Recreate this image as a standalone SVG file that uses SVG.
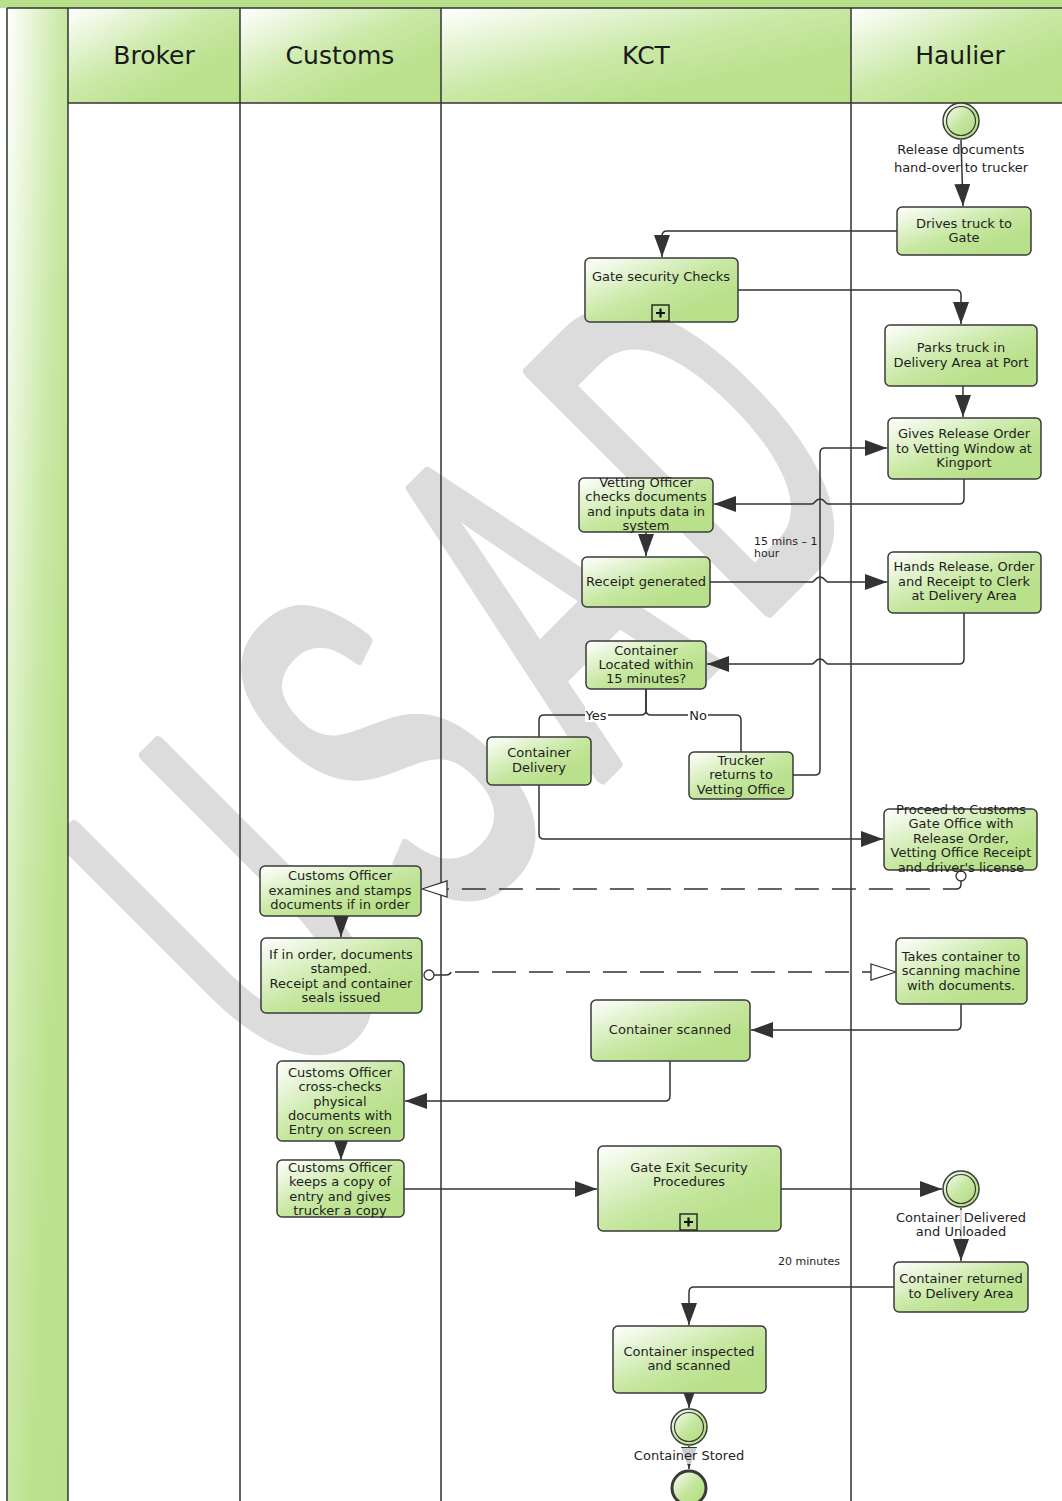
<svg xmlns="http://www.w3.org/2000/svg" width="1062" height="1501" viewBox="0 0 1062 1501">
  <defs>
    <linearGradient id="fillGreen" x1="0" y1="0" x2="1" y2="1">
      <stop offset="0" stop-color="#ffffff"/>
      <stop offset="0.5" stop-color="#c6e7a0"/>
      <stop offset="0.75" stop-color="#b9e08b"/>
      <stop offset="1" stop-color="#b9e08b"/>
    </linearGradient>
    <linearGradient id="headGreen" x1="0" y1="0" x2="1" y2="1">
      <stop offset="0" stop-color="#ffffff"/>
      <stop offset="0.45" stop-color="#cbe9a8"/>
      <stop offset="0.7" stop-color="#bce28f"/>
      <stop offset="1" stop-color="#b9e08b"/>
    </linearGradient>
    <marker id="arrow" markerUnits="userSpaceOnUse" markerWidth="22" markerHeight="16" refX="22" refY="8" orient="auto">
      <path d="M0,0 L22,8 L0,16 z" fill="#333333"/>
    </marker>
    <marker id="open" markerUnits="userSpaceOnUse" markerWidth="27" markerHeight="18" refX="26" refY="9" orient="auto">
      <path d="M1,1 L26,9 L1,17 z" fill="#ffffff" stroke="#333333" stroke-width="1.3"/>
    </marker>
  </defs>
  <style>
    .ln { fill: none; stroke: #333333; stroke-width: 1.5; }
    .msg { fill: none; stroke: #333333; stroke-width: 1.5; stroke-dasharray: 24 13; }
    .box { fill: url(#fillGreen); stroke: #3a3a3a; stroke-width: 1.5; }
    .lane { stroke: #333333; stroke-width: 1.5; fill: none; }
    .t { font-family: "DejaVu Sans", Verdana, sans-serif; font-size: 13px; fill: #1e1e1e; text-anchor: middle; }
    .small { font-family: "DejaVu Sans", Verdana, sans-serif; font-size: 11px; fill: #1e1e1e; }
    .head { font-family: "DejaVu Sans", Verdana, sans-serif; font-size: 25px; fill: #1a1a1a; text-anchor: middle; }
    .ev { fill: url(#fillGreen); stroke: #3a3a3a; stroke-width: 1.5; }
    .evin { fill: none; stroke: #3a3a3a; stroke-width: 1.2; }
    .sub { fill: none; stroke: #222222; stroke-width: 1.4; }
  </style>

  <!-- page -->
  <rect x="0" y="0" width="1062" height="1501" fill="#ffffff"/>

  <!-- watermark -->
  <text x="0" y="0" transform="translate(285,1094) rotate(-45) scale(0.51,1)" font-family="'Liberation Sans', Arial, sans-serif" font-size="490" letter-spacing="96" fill="#dcdcdc" stroke="#dcdcdc" stroke-width="14" stroke-linejoin="round">USAD</text>

  <!-- pool and lanes -->
  <g id="pool">
    <rect x="0" y="0" width="1062" height="8" fill="#b9e08b"/>
    <rect x="7" y="8" width="61" height="1500" fill="url(#headGreen)"/>
    <rect x="68" y="8" width="172" height="95" fill="url(#headGreen)"/>
    <rect x="240" y="8" width="201" height="95" fill="url(#headGreen)"/>
    <rect x="441" y="8" width="410" height="95" fill="url(#headGreen)"/>
    <rect x="851" y="8" width="218" height="95" fill="url(#headGreen)"/>
    <path class="lane" d="M7,8 H1062 M68,103 H1062 M7,8 V1501 M68,8 V1501 M240,8 V1501 M441,8 V1501 M851,8 V1501"/>
    <text class="head" x="154" y="64">Broker</text>
    <text class="head" x="340" y="64">Customs</text>
    <text class="head" x="646" y="64">KCT</text>
    <text class="head" x="960" y="64">Haulier</text>
  </g>

  <!-- connectors -->
  <g id="connectors">
    <path class="ln" d="M961,140 L963,206" marker-end="url(#arrow)"/>
    <path class="ln" d="M897,231 H667 Q662,231 662,236 V257" marker-end="url(#arrow)"/>
    <path class="ln" d="M738,290 H956 Q961,290 961,295 V324" marker-end="url(#arrow)"/>
    <path class="ln" d="M963,386 V417" marker-end="url(#arrow)"/>
    <path class="ln" d="M964,479 V499 Q964,504 959,504 H828 C825,504 825,499 820,499 C815,499 815,504 812,504 H714" marker-end="url(#arrow)"/>
    <path class="ln" d="M646,532 V556" marker-end="url(#arrow)"/>
    <path class="ln" d="M710,582 H812 C815,582 815,577 820,577 C825,577 825,582 828,582 H887" marker-end="url(#arrow)"/>
    <path class="ln" d="M964,613 V659 Q964,664 959,664 H828 C825,664 825,659 820,659 C815,659 815,664 812,664 H707" marker-end="url(#arrow)"/>
    <path class="ln" d="M646,689 V710 Q646,715 641,715 H544 Q539,715 539,720 V737"/>
    <path class="ln" d="M646,689 V710 Q646,715 651,715 H736 Q741,715 741,720 V752"/>
    <path class="ln" d="M793,775 H815 Q820,775 820,770 V453 Q820,448 825,448 H887" marker-end="url(#arrow)"/>
    <path class="ln" d="M539,785 V834 Q539,839 544,839 H883" marker-end="url(#arrow)"/>
    <circle cx="961" cy="876" r="5" fill="#ffffff" stroke="#333333" stroke-width="1.3"/>
    <path class="msg" d="M961,881 V884 Q961,889 956,889 H422" marker-end="url(#open)"/>
    <path class="ln" d="M341,917 V937" marker-end="url(#arrow)"/>
    <circle cx="429" cy="975" r="5" fill="#ffffff" stroke="#333333" stroke-width="1.3"/>
    <path class="ln" d="M434,975 H446 Q450,975 451,972"/>
    <path class="msg" d="M455,972 H896" marker-end="url(#open)"/>
    <path class="ln" d="M961,1004 V1025 Q961,1030 956,1030 H751" marker-end="url(#arrow)"/>
    <path class="ln" d="M670,1061 V1096 Q670,1101 665,1101 H405" marker-end="url(#arrow)"/>
    <path class="ln" d="M341,1141 V1160" marker-end="url(#arrow)"/>
    <path class="ln" d="M404,1189 H597" marker-end="url(#arrow)"/>
    <path class="ln" d="M781,1189 H942" marker-end="url(#arrow)"/>
    <path class="ln" d="M961,1208 V1261" marker-end="url(#arrow)"/>
    <path class="ln" d="M894,1287 H694 Q689,1287 689,1292 V1325" marker-end="url(#arrow)"/>
    <path class="ln" d="M689,1393 V1408" marker-end="url(#arrow)"/>
    <path class="ln" d="M689,1446 V1469" marker-end="url(#arrow)"/>
    <rect x="585" y="708" width="23" height="14" fill="#ffffff"/>
    <text class="t" x="596" y="719.5">Yes</text>
    <rect x="688" y="708" width="20" height="14" fill="#ffffff"/>
    <text class="t" x="698" y="719.5">No</text>
    <text class="small" x="754" y="545">15 mins – 1</text>
    <text class="small" x="754" y="557">hour</text>
    <text class="small" x="778" y="1265">20 minutes</text>
  </g>

  <!-- Haulier -->
  <g id="start-release">
    <circle class="ev" cx="961" cy="121" r="18"/>
    <circle class="evin" cx="961" cy="121" r="14.5"/>
    <text class="t" x="961" y="154">Release documents</text>
    <text class="t" x="961" y="172">hand-over to trucker</text>
  </g>
  <g id="drives-truck">
    <rect class="box" x="897" y="207" width="134" height="48" rx="5"/>
    <text class="t" x="964" y="228">Drives truck to</text>
    <text class="t" x="964" y="242">Gate</text>
  </g>
  <g id="gate-security">
    <rect class="box" x="585" y="258" width="153" height="64" rx="5"/>
    <text class="t" x="661" y="281">Gate security Checks</text>
    <rect class="sub" x="652" y="305" width="17" height="16"/>
    <path d="M660.5,308.5 V317.5 M656,313 H665" stroke="#111111" stroke-width="2.2"/>
  </g>
  <g id="parks-truck">
    <rect class="box" x="885" y="325" width="152" height="61" rx="5"/>
    <text class="t" x="961" y="352">Parks truck in</text>
    <text class="t" x="961" y="366.5">Delivery Area at Port</text>
  </g>
  <g id="gives-release">
    <rect class="box" x="888" y="418" width="153" height="61" rx="5"/>
    <text class="t" x="964" y="438">Gives Release Order</text>
    <text class="t" x="964" y="452.5">to Vetting Window at</text>
    <text class="t" x="964" y="467">Kingport</text>
  </g>
  <g id="vetting-officer">
    <rect class="box" x="579" y="478" width="134" height="54" rx="5"/>
    <text class="t" x="646" y="487">Vetting Officer</text>
    <text class="t" x="646" y="501">checks documents</text>
    <text class="t" x="646" y="515.5">and inputs data in</text>
    <text class="t" x="646" y="530">system</text>
  </g>
  <g id="receipt-generated">
    <rect class="box" x="582" y="557" width="128" height="50" rx="5"/>
    <text class="t" x="646" y="586">Receipt generated</text>
  </g>
  <g id="hands-release">
    <rect class="box" x="888" y="552" width="153" height="61" rx="5"/>
    <text class="t" x="964" y="571">Hands Release, Order</text>
    <text class="t" x="964" y="586">and Receipt to Clerk</text>
    <text class="t" x="964" y="600">at Delivery Area</text>
  </g>
  <g id="container-located">
    <rect class="box" x="586" y="641" width="120" height="48" rx="5"/>
    <text class="t" x="646" y="654.5">Container</text>
    <text class="t" x="646" y="668.5">Located within</text>
    <text class="t" x="646" y="683">15 minutes?</text>
  </g>
  <g id="container-delivery">
    <rect class="box" x="487" y="737" width="104" height="48" rx="5"/>
    <text class="t" x="539" y="757">Container</text>
    <text class="t" x="539" y="772">Delivery</text>
  </g>
  <g id="trucker-returns">
    <rect class="box" x="689" y="752" width="104" height="47" rx="5"/>
    <text class="t" x="741" y="765">Trucker</text>
    <text class="t" x="741" y="779">returns to</text>
    <text class="t" x="741" y="794">Vetting Office</text>
  </g>
  <g id="proceed-customs">
    <rect class="box" x="884" y="809" width="153" height="61" rx="5"/>
    <text class="t" x="961" y="814">Proceed to Customs</text>
    <text class="t" x="961" y="828">Gate Office with</text>
    <text class="t" x="961" y="843">Release Order,</text>
    <text class="t" x="961" y="857">Vetting Office Receipt</text>
    <text class="t" x="961" y="872">and driver's license</text>
  </g>
  <g id="customs-examines">
    <rect class="box" x="260" y="866" width="161" height="50" rx="5"/>
    <text class="t" x="340" y="880">Customs Officer</text>
    <text class="t" x="340" y="894.5">examines and stamps</text>
    <text class="t" x="340" y="909">documents if in order</text>
  </g>
  <g id="documents-stamped">
    <rect class="box" x="261" y="938" width="161" height="75" rx="5"/>
    <text class="t" x="341" y="958.5">If in order, documents</text>
    <text class="t" x="341" y="973">stamped.</text>
    <text class="t" x="341" y="987.5">Receipt and container</text>
    <text class="t" x="341" y="1002">seals issued</text>
  </g>
  <g id="takes-container">
    <rect class="box" x="896" y="938" width="131" height="66" rx="5"/>
    <text class="t" x="961" y="960.5">Takes container to</text>
    <text class="t" x="961" y="975">scanning machine</text>
    <text class="t" x="961" y="989.5">with documents.</text>
  </g>
  <g id="container-scanned">
    <rect class="box" x="591" y="1000" width="159" height="61" rx="5"/>
    <text class="t" x="670" y="1034">Container scanned</text>
  </g>
  <g id="customs-crosschecks">
    <rect class="box" x="277" y="1061" width="127" height="80" rx="5"/>
    <text class="t" x="340" y="1076.5">Customs Officer</text>
    <text class="t" x="340" y="1091">cross-checks</text>
    <text class="t" x="340" y="1105.5">physical</text>
    <text class="t" x="340" y="1120">documents with</text>
    <text class="t" x="340" y="1134">Entry on screen</text>
  </g>
  <g id="customs-keeps-copy">
    <rect class="box" x="277" y="1160" width="127" height="57" rx="5"/>
    <text class="t" x="340" y="1171.5">Customs Officer</text>
    <text class="t" x="340" y="1186">keeps a copy of</text>
    <text class="t" x="340" y="1200.5">entry and gives</text>
    <text class="t" x="340" y="1215">trucker a copy</text>
  </g>
  <g id="gate-exit">
    <rect class="box" x="598" y="1146" width="183" height="85" rx="5"/>
    <text class="t" x="689" y="1171.5">Gate Exit Security</text>
    <text class="t" x="689" y="1186">Procedures</text>
    <rect class="sub" x="680" y="1214" width="17" height="16"/>
    <path d="M688.5,1217.5 V1226.5 M684,1222 H693" stroke="#111111" stroke-width="2.2"/>
  </g>
  <g id="container-delivered">
    <circle class="ev" cx="961" cy="1189" r="18"/>
    <circle class="evin" cx="961" cy="1189" r="14.5"/>
    <rect x="896" y="1210" width="130" height="29" fill="#ffffff" fill-opacity="0.75"/>
    <text class="t" x="961" y="1222">Container Delivered</text>
    <text class="t" x="961" y="1236">and Unloaded</text>
  </g>
  <g id="container-returned">
    <rect class="box" x="894" y="1262" width="134" height="50" rx="5"/>
    <text class="t" x="961" y="1283">Container returned</text>
    <text class="t" x="961" y="1298">to Delivery Area</text>
  </g>
  <g id="container-inspected">
    <rect class="box" x="613" y="1326" width="153" height="67" rx="5"/>
    <text class="t" x="689" y="1356">Container inspected</text>
    <text class="t" x="689" y="1370">and scanned</text>
  </g>
  <g id="container-stored">
    <circle class="ev" cx="689" cy="1427" r="18"/>
    <circle class="evin" cx="689" cy="1427" r="14.5"/>
    <rect x="633" y="1448" width="112" height="16" fill="#ffffff" fill-opacity="0.75"/>
    <text class="t" x="689" y="1460">Container Stored</text>
  </g>
  <g id="end">
    <circle cx="689" cy="1488" r="17" fill="url(#fillGreen)" stroke="#3a3a3a" stroke-width="3"/>
  </g>
</svg>
